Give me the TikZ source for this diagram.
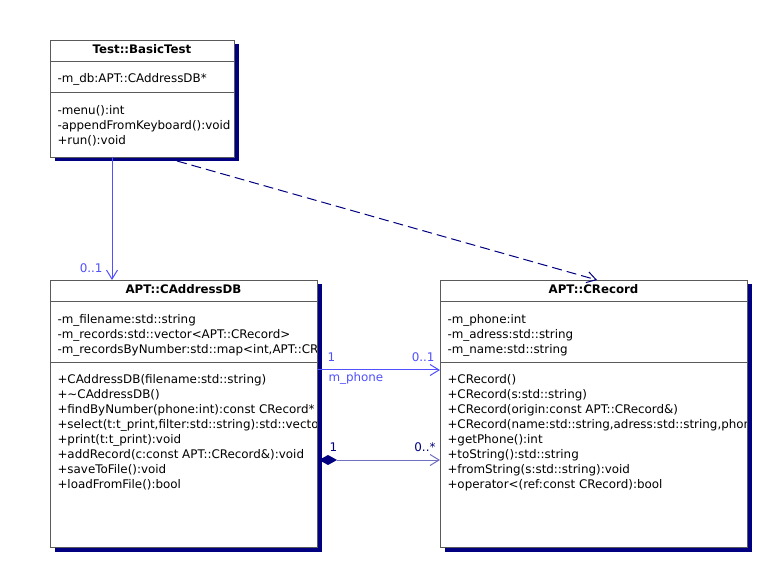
\documentclass[tikz,border=0pt]{standalone}
\usepackage{fontspec}
\setmainfont{DejaVu Sans}
\usetikzlibrary{arrows.meta,shadows,positioning}
\definecolor{umlblue}{RGB}{80,80,255}
\definecolor{umlnavy}{RGB}{0,0,128}
\definecolor{umllav}{RGB}{112,112,192}
\definecolor{umlgray}{RGB}{90,90,90}
\tikzset{
  classbox/.style={draw=umlgray, fill=white, line width=1pt, anchor=north west,
    drop shadow={shadow xshift=4pt, shadow yshift=-4pt, fill=umlnavy, opacity=1}},
  classname/.style={font=\fontsize{11.8}{15}\selectfont\bfseries, inner sep=0pt},
  member/.style={anchor=north west, align=left, inner sep=0pt, font=\fontsize{11.9}{15}\selectfont},
  mult/.style={inner sep=0pt, font=\fontsize{11.9}{15}\selectfont},
  openhead/.style={-{Straight Barb[length=9pt,width=11pt]}},
}
\begin{document}
\begin{tikzpicture}[x=1pt, y=-1pt, line width=1pt]
  \useasboundingbox[fill=white] (0,0) rectangle (761,561);
  % classes
  \node[classbox, minimum width=184, minimum height=117] (BT) at (50,40) {};
  \node[classbox, minimum width=267, minimum height=267] (DB) at (50,280) {};
  \node[classbox, minimum width=307, minimum height=267] (REC) at (440,280) {};
  % compartments
  \draw[umlgray] (50,62) -- (234,62) (50,93) -- (234,93);
  \draw[umlgray] (50,302) -- (317,302) (50,363) -- (317,363);
  \draw[umlgray] (440,302) -- (747,302) (440,363) -- (747,363);
  % names
  \node[classname] (BTn) at (142,49) {Test::BasicTest};
  \node[classname] (DBn) at (183.5,289) {APT::CAddressDB};
  \node[classname] (RECn) at (593.5,289) {APT::CRecord};
  % members
  \node[member] (BTa) at (57,73) {-m\_db:APT::CAddressDB*};
  \node[member] (BTo) at (57,105) {-menu():int\\-appendFromKeyboard():void\\+run():void};
  \begin{scope}
    \clip (50,280) rectangle (316.5,547);
    \node[member] (DBa) at (57,314) {-m\_filename:std::string\\-m\_records:std::vector<APT::CRecord>\\-m\_recordsByNumber:std::map<int,APT::CRecord*>};
    \node[member] (DBo) at (57,374) {+CAddressDB(filename:std::string)\\+\textasciitilde CAddressDB()\\+findByNumber(phone:int):const CRecord*\\+select(t:t\_print,filter:std::string):std::vector<APT::CRecord>\\+print(t:t\_print):void\\+addRecord(c:const APT::CRecord\&):void\\+saveToFile():void\\+loadFromFile():bool};
  \end{scope}
  \begin{scope}
    \clip (440,280) rectangle (746.5,547);
    \node[member] (RECa) at (447,314) {-m\_phone:int\\-m\_adress:std::string\\-m\_name:std::string};
    \node[member] (RECo) at (447,374) {+CRecord()\\+CRecord(s:std::string)\\+CRecord(origin:const APT::CRecord\&)\\+CRecord(name:std::string,adress:std::string,phone:int)\\+getPhone():int\\+toString():std::string\\+fromString(s:std::string):void\\+operator<(ref:const CRecord):bool};
  \end{scope}
  % relations
  \coordinate (BTs) at (112,157);
  \coordinate (DBt) at (112,280);
  \draw[umlblue, openhead] (BTs) -- (DBt) node[mult, pos=0.9, left=9pt]{0..1};
  \coordinate (BTd) at (177,161);
  \coordinate (RECt) at (597,280);
  \draw[umlnavy, dash pattern=on 10pt off 5pt, openhead] (BTd) -- (RECt);
  \coordinate (DBp) at (317,370);
  \coordinate (RECp) at (440,370);
  \draw[umlblue, openhead] (DBp) -- (RECp)
    node[mult, text=umlblue, pos=0, above right=7.5pt and 10pt]{1}
    node[mult, text=umlblue, pos=1, above left=7.5pt and 5pt]{0..1}
    node[mult, text=umlblue, pos=0, below right=2pt and 11pt]{m\_phone};
  \coordinate (DBc) at (319,460);
  \coordinate (DBd) at (337,460);
  \coordinate (RECc) at (440,460);
  \fill[umlnavy] (DBc) -- ++(9,-5) -- (DBd) -- ++(-9,5) -- cycle;
  \draw[umllav, openhead] (DBd) -- (RECc)
    node[mult, text=umlnavy, pos=0, above right=7.5pt and -8pt]{1}
    node[mult, text=umlnavy, pos=1, above left=7.5pt and 4pt]{0..*};
\end{tikzpicture}
\end{document}
